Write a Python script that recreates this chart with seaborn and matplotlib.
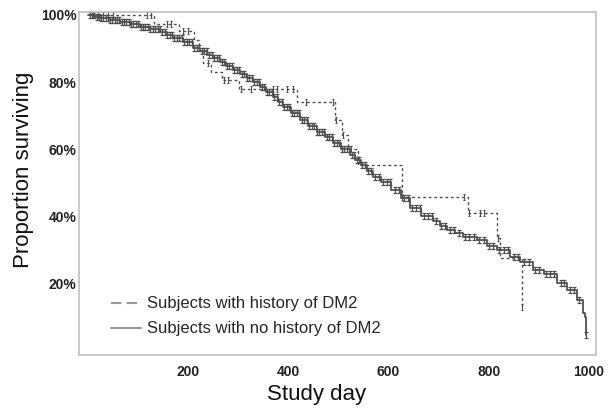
import numpy as np
import pandas as pd
import matplotlib
matplotlib.use('Agg')
import matplotlib.pyplot as plt
from matplotlib.path import Path
from matplotlib.lines import Line2D
from matplotlib.ticker import PercentFormatter
import seaborn as sns

# Kaplan-Meier steps (study day, proportion surviving)
dm2_days = [0, 132, 182, 212, 222, 230, 245, 267, 301, 417, 493, 507, 519, 539,
            627, 758, 816, 822, 866]
dm2_surv = [1.0, 0.973, 0.952, 0.925, 0.89, 0.857, 0.83, 0.807, 0.78, 0.741,
            0.6875, 0.643, 0.601, 0.554, 0.458, 0.411, 0.336, 0.277, 0.13]
dm2_censored = [10, 20, 30, 40, 50, 118, 125, 158, 165, 190, 200, 240, 272, 280,
                305, 325, 370, 378, 398, 410, 436, 490, 496, 510, 525, 627, 750,
                760, 783, 790, 818, 866]

nodm2_days = [0, 14, 24, 44, 64, 84, 104, 124, 144, 158, 170, 190, 210, 224, 238,
              250, 263, 276, 289, 303, 317, 330, 343, 356, 369, 379, 389, 406,
              423, 440, 457, 473, 489, 506, 523, 534, 545, 557, 569, 585, 605,
              625, 643, 665, 689, 703, 717, 733, 749, 776, 796, 816, 842, 862,
              888, 910, 936, 956, 976, 988, 992, 994]
nodm2_surv = [1.0, 0.995, 0.991, 0.985, 0.979, 0.972, 0.964, 0.957, 0.949, 0.941,
              0.932, 0.918, 0.902, 0.892, 0.881, 0.871, 0.860, 0.848, 0.836, 0.824,
              0.8125, 0.800, 0.786, 0.771, 0.756, 0.741, 0.726, 0.707, 0.6875,
              0.670, 0.652, 0.636, 0.619, 0.601, 0.583, 0.569, 0.554, 0.536,
              0.518, 0.503, 0.479, 0.455, 0.426, 0.402, 0.387, 0.373, 0.360,
              0.350, 0.339, 0.330, 0.3125, 0.301, 0.280, 0.265, 0.241, 0.229,
              0.202, 0.182, 0.152, 0.113, 0.101, 0.048]
nodm2_censored = [3, 8, 12, 17, 21, 26, 30, 35, 39, 44, 48, 53, 58, 62, 67, 72, 76,
                  81, 86, 90, 95, 100, 105, 110, 114, 119, 124, 129, 134, 139, 143,
                  148, 153, 158, 163, 168, 172, 177, 182, 187, 192, 197, 202, 207,
                  212, 217, 222, 227, 232, 237, 242, 247, 252, 257, 262, 267, 272,
                  277, 282, 287, 292, 297, 302, 307, 312, 317, 322, 327, 332, 337,
                  342, 347, 352, 357, 362, 367, 372, 377, 382, 387, 392, 397, 402,
                  407, 412, 417, 422, 427, 432, 437, 442, 447, 452, 457, 462, 467,
                  472, 477, 482, 487, 492, 497, 502, 507, 512, 517, 522, 527, 532,
                  537, 542, 547, 553, 560, 566, 573, 580, 588, 596, 603, 612, 620,
                  630, 638, 647, 655, 662, 670, 678, 686, 695, 705, 712, 722, 730,
                  740, 752, 760, 770, 780, 790, 800, 808, 820, 830, 838, 850, 858,
                  870, 880, 893, 900, 915, 922, 930, 945, 950, 962, 970, 980, 994]

x_ticks = [200, 400, 600, 800, 1000]
y_ticks = [0.2, 0.4, 0.6, 0.8, 1.0]
legend_labels = ['Subjects with history of DM2', 'Subjects with no history of DM2']

sns.set_style('white')
plt.rcParams['font.family'] = ['Liberation Sans', 'DejaVu Sans']

curve_col = '#505050'
leg_col = '#9a9a9a'

def surv_at(days, surv, t):
    idx = np.searchsorted(days, t, side='right') - 1
    return np.asarray(surv)[idx]

# censor tick: a small "I" with caps
cap = 0.45
tick_marker = Path([(-cap, 1), (cap, 1), (0, 1), (0, -1), (-cap, -1), (cap, -1)],
                   [Path.MOVETO, Path.LINETO, Path.MOVETO, Path.LINETO,
                    Path.MOVETO, Path.LINETO])

fig = plt.figure(figsize=(6.08, 4.09), dpi=100)
ax = fig.add_axes([0.130, 0.132, 0.850, 0.839])

dm2 = pd.DataFrame({'day': dm2_days, 'surv': dm2_surv})
nodm2 = pd.DataFrame({'day': nodm2_days, 'surv': nodm2_surv})

sns.lineplot(data=nodm2, x='day', y='surv', drawstyle='steps-post', estimator=None,
             color=curve_col, lw=1.3, ax=ax)
sns.lineplot(data=dm2, x='day', y='surv', drawstyle='steps-post', estimator=None,
             color=curve_col, lw=1.0, dashes=False, ax=ax)
ax.lines[-1].set_dashes((2, 2))

cens_no = pd.DataFrame({'day': nodm2_censored,
                        'surv': surv_at(nodm2_days, nodm2_surv, nodm2_censored)})
cens_dm = pd.DataFrame({'day': dm2_censored,
                        'surv': surv_at(dm2_days, dm2_surv, dm2_censored)})
sns.scatterplot(data=cens_no, x='day', y='surv', marker=tick_marker, s=24,
                color=curve_col, edgecolor=curve_col, linewidth=0.9, ax=ax)
sns.scatterplot(data=cens_dm, x='day', y='surv', marker=tick_marker, s=22,
                color=curve_col, edgecolor=curve_col, linewidth=0.8, ax=ax)

ax.set_xlim(-18, 1014)
ax.set_ylim(-0.012, 1.009)
ax.set_xticks(x_ticks)
ax.set_yticks(y_ticks)
ax.yaxis.set_major_formatter(PercentFormatter(1.0, decimals=0))
ax.tick_params(axis='both', length=0, labelsize=10, labelcolor='#222222')
ax.tick_params(axis='x', pad=7)
ax.tick_params(axis='y', pad=2)
for lab in ax.get_xticklabels() + ax.get_yticklabels():
    lab.set_fontweight('bold')

ax.set_xlabel('Study day', fontsize=16, color='#111111')
ax.set_ylabel('Proportion surviving', fontsize=16, color='#111111')
ax.xaxis.set_label_coords(0.46, -0.085)
ax.yaxis.set_label_coords(-0.088, 0.539)

for sp in ax.spines.values():
    sp.set_color('#c0c0c0')
    sp.set_linewidth(1.2)

handles = [Line2D([], [], color=leg_col, lw=1.5, dashes=(5, 2.5)),
           Line2D([], [], color=leg_col, lw=1.5)]
ax.legend(handles, legend_labels, loc='lower left', bbox_to_anchor=(0.061, 0.054),
          frameon=False, fontsize=12, handlelength=1.8, handletextpad=0.4,
          labelspacing=0.6, borderpad=0, borderaxespad=0)

fig.savefig('out.png', dpi=100)
